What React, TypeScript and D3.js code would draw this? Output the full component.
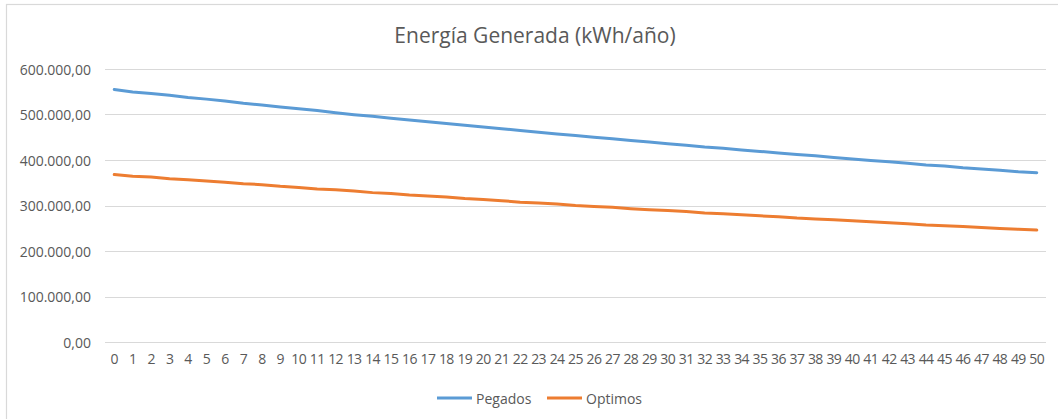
import { useEffect, useRef } from 'react'
import * as d3 from 'd3'

const W = 1058
const H = 419

const years = d3.range(0, 51).map(String)

// kWh/año
const pegados = [
  555000, 549500, 546200, 542300, 537400, 533800, 529900, 524600, 520800, 516600,
  512700, 509000, 503900, 499700, 496100, 491900, 487900, 484100, 480300, 476300,
  472500, 468700, 464900, 461200, 457400, 453900, 450100, 446600, 442900, 439400,
  435900, 432500, 428600, 425800, 422100, 418800, 415400, 411900, 409100, 405600,
  402000, 398700, 396200, 392900, 389200, 386900, 383000, 380200, 377700, 374300,
  372000,
]

const optimos = [
  368000, 364500, 362500, 359000, 356800, 353600, 351200, 347900, 345800, 342300,
  339800, 336100, 334400, 331800, 328300, 326300, 322900, 321100, 318800, 315400,
  313200, 310600, 307300, 305600, 303100, 300000, 297900, 295900, 293000, 290900,
  288800, 286700, 283400, 281600, 279600, 277400, 275200, 272400, 270500, 268600,
  266300, 264300, 262300, 259900, 257300, 255700, 253900, 251600, 249700, 247600,
  246000,
]

const yTicks = [0, 100000, 200000, 300000, 400000, 500000, 600000]

const SERIES = [
  { name: 'Pegados', values: pegados, color: '#5b9bd5' },
  { name: 'Optimos', values: optimos, color: '#ed7d31' },
]

const FONT = '"Open Sans", "Noto Sans", sans-serif'
const TXT = '#595959'
const GRID = '#d9d9d9'

const esLocale = d3.formatLocale({ decimal: ',', thousands: '.', grouping: [3], currency: ['', ''] })
const fmt = esLocale.format(',.2f')

export default function App() {
  const svgRef = useRef<SVGSVGElement>(null)

  useEffect(() => {
    if (!svgRef.current) return
    const svg = d3.select(svgRef.current)
    svg.selectAll('*').remove()

    const x = d3.scaleBand<string>().domain(years).range([105, 1046])
    const y = d3.scaleLinear().domain([0, 600000]).range([342, 69])
    const cx = (i: number) => (x(years[i]) ?? 0) + x.bandwidth() / 2

    svg.append('rect')
      .attr('width', W).attr('height', H).attr('fill', '#ffffff')

    // chart area border (runs off the right and bottom edges)
    svg.append('rect')
      .attr('x', 6.5).attr('y', 4.5)
      .attr('width', W + 20).attr('height', H + 20)
      .attr('fill', 'none').attr('stroke', GRID).attr('stroke-width', 1.2)

    svg.append('text')
      .attr('x', 535).attr('y', 43)
      .attr('text-anchor', 'middle')
      .style('font-family', FONT).style('font-size', '21px').style('fill', TXT)
      .text('Energía Generada (kWh/año)')

    const yAxis = svg.append('g')
    yAxis.selectAll('line')
      .data(yTicks)
      .join('line')
      .attr('x1', 105).attr('x2', 1046)
      .attr('y1', d => Math.round(y(d)) + 0.5).attr('y2', d => Math.round(y(d)) + 0.5)
      .attr('stroke', GRID).attr('stroke-width', 1)
    yAxis.selectAll('text')
      .data(yTicks)
      .join('text')
      .attr('x', 91).attr('y', d => y(d))
      .attr('text-anchor', 'end').attr('dominant-baseline', 'central')
      .style('font-family', FONT).style('font-size', '14px').style('fill', TXT)
      .text(d => fmt(d))

    svg.append('g').selectAll('text')
      .data(years)
      .join('text')
      .attr('x', (_, i) => cx(i)).attr('y', 358)
      .attr('text-anchor', 'middle').attr('dominant-baseline', 'central')
      .style('font-family', FONT).style('font-size', '14px').style('fill', TXT)
      .style('letter-spacing', '-0.6px')
      .text(d => d)

    const line = d3.line<number>()
      .x((_, i) => cx(i))
      .y(d => y(d))

    SERIES.forEach(s => {
      svg.append('path')
        .datum(s.values)
        .attr('d', line)
        .attr('fill', 'none')
        .attr('stroke', s.color)
        .attr('stroke-width', 3)
        .attr('stroke-linecap', 'round')
        .attr('stroke-linejoin', 'round')
    })

    const legendX = [437, 547]
    SERIES.forEach((s, i) => {
      const g = svg.append('g').attr('transform', `translate(${legendX[i]},398)`)
      g.append('line')
        .attr('x1', 0).attr('x2', 35)
        .attr('stroke', s.color).attr('stroke-width', 3)
      g.append('text')
        .attr('x', 39).attr('dominant-baseline', 'central')
        .style('font-family', FONT).style('font-size', '14px').style('fill', TXT)
        .text(s.name)
    })
  }, [])

  return (
    <svg
      ref={svgRef}
      width={W}
      height={H}
      style={{ position: 'fixed', top: 0, left: 0, display: 'block' }}
    />
  )
}
